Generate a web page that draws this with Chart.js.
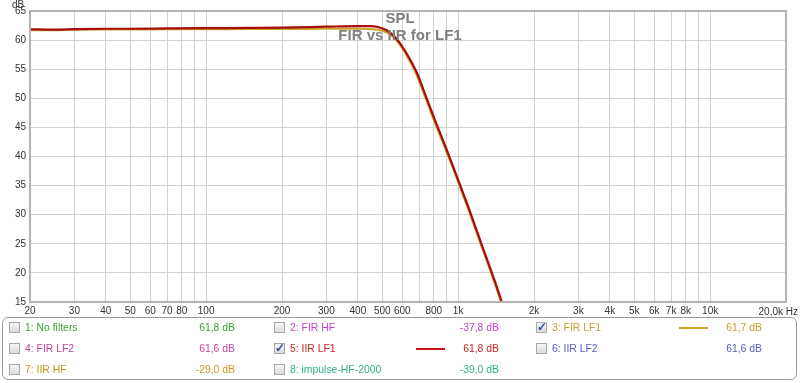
<!DOCTYPE html>
<html>
<head>
<meta charset="utf-8">
<script src="https://cdn.jsdelivr.net/npm/chart.js@4.4.1/dist/chart.umd.min.js"></script>
<style>
  html, body { margin: 0; padding: 0; background: #fff; }
  #wrap { position: relative; width: 800px; height: 383px; font-family: "Liberation Sans", Arial, sans-serif; font-size: 10.4px; }
  #plot { position: absolute; left: 0; top: 0; }
  #leyenda { position: absolute; left: 2px; top: 317px; width: 795px; height: 63px; border: 1px solid #9a9a9a; border-radius: 6px; box-sizing: border-box; }
  .caja { position: absolute; width: 11px; height: 11px; border: 1px solid #a8a8a8; background: linear-gradient(#f4f4f4, #dcdcdc); box-sizing: border-box; }
  .caja span { position: absolute; left: 0px; top: -3px; font-size: 12px; color: #2d4fa0; font-weight: bold; }
  .txt { position: absolute; white-space: nowrap; line-height: 12px; }
  .val { position: absolute; white-space: nowrap; line-height: 12px; text-align: right; }
  .muestra { position: absolute; height: 2px; }
</style>
</head>
<body>
<div id="wrap">
  <canvas id="plot" width="800" height="318"></canvas>
  <div id="leyenda"></div>
</div>
<script>
// Frecuencias (Hz) y nivel SPL (dB) de cada curva
const iirFrecuencias = [20, 25, 30, 40, 50, 70, 100, 150, 200, 300, 400, 450, 480, 520, 550, 572, 600, 644, 687, 750, 800, 900, 1000, 1100, 1200, 1300, 1400, 1490];
const iirSpl = [61.85, 61.8, 61.9, 61.95, 61.95, 62.0, 62.05, 62.1, 62.15, 62.3, 62.4, 62.4, 62.25, 61.7, 60.9, 60.1, 58.9, 56.7, 54.3, 50.0, 46.8, 41.2, 36.0, 31.2, 26.6, 22.4, 18.5, 15.0];

const firFrecuencias = [20, 25, 30, 40, 50, 70, 100, 150, 200, 300, 400, 450, 500, 530, 560, 600, 644, 687, 750, 800, 900, 1000, 1100, 1200, 1300, 1400, 1480];
const firSpl = [61.7, 61.7, 61.75, 61.8, 61.8, 61.85, 61.85, 61.9, 61.9, 61.95, 61.95, 61.9, 61.6, 61.1, 60.3, 58.6, 56.3, 53.8, 49.5, 46.3, 40.8, 35.6, 30.8, 26.2, 22.0, 18.1, 15.0];

// Marcas del eje X
const marcasX = [20, 30, 40, 50, 60, 70, 80, 90, 100, 200, 300, 400, 500, 600, 700, 800, 900, 1000,
    2000, 3000, 4000, 5000, 6000, 7000, 8000, 9000, 10000, 20000];
const etiquetasX = ['20', '30', '40', '50', '60', '70', '80', '', '100', '200', '300', '400', '500', '600', '', '800', '', '1k',
    '2k', '3k', '4k', '5k', '6k', '7k', '8k', '', '10k', ''];

// Leyenda: texto, color, valor, marcado
const leyendaTextos = ['1: No filters', '2: FIR HF', '3: FIR LF1', '4: FIR LF2', '5: IIR LF1', '6: IIR LF2', '7: IIR HF', '8: impulse-HF-2000'];
const leyendaValores = ['61,8 dB', '-37,8 dB', '61,7 dB', '61,6 dB', '61,8 dB', '61,6 dB', '-29,0 dB', '-39,0 dB'];
const leyendaColores = ['#3f9a3a', '#c044c4', '#c0a030', '#c8449a', '#c42424', '#5a5ac4', '#c8961e', '#2eb47e'];
const leyendaMarcado = [false, false, true, false, true, false, false, false];

const colorIir = '#a80c0c';
const colorFir = '#c8a428';

function aPuntos(xs, ys) {
    return xs.map((x, i) => ({ x: x, y: ys[i] }));
}

// Plugin para título, borde y textos extra
const extras = {
    id: 'extras',
    afterDatasetsDraw(chart) {
        const ctx = chart.ctx;
        const a = chart.chartArea;
        ctx.save();
        ctx.strokeStyle = '#b4b4b4';
        ctx.lineWidth = 2;
        ctx.strokeRect(a.left, a.top, a.right - a.left, a.bottom - a.top);
        ctx.fillStyle = '#808080';
        ctx.font = 'bold 15px "Liberation Sans", Arial, sans-serif';
        ctx.textAlign = 'center';
        ctx.textBaseline = 'middle';
        ctx.fillText('SPL', 400, 19);
        ctx.fillText('FIR vs IIR for LF1', 400, 36);
        ctx.fillStyle = '#333';
        ctx.font = '10px "Liberation Sans", Arial, sans-serif';
        ctx.fillText('dB', 18, 5);
        ctx.textAlign = 'right';
        ctx.textBaseline = 'top';
        ctx.fillText('20,0k Hz', 798, 307);
        ctx.restore();
    }
};

new Chart(document.getElementById('plot'), {
    type: 'line',
    data: {
        datasets: [{
            label: '5: IIR LF1',
            data: aPuntos(iirFrecuencias, iirSpl),
            borderColor: colorIir,
            borderWidth: 2.2,
            pointRadius: 0,
            cubicInterpolationMode: 'monotone'
        }, {
            label: '3: FIR LF1',
            data: aPuntos(firFrecuencias, firSpl),
            borderColor: colorFir,
            borderWidth: 2,
            pointRadius: 0,
            cubicInterpolationMode: 'monotone'
        }]
    },
    plugins: [extras],
    options: {
        responsive: false,
        animation: false,
        layout: { padding: { left: 0, top: 11, right: 14, bottom: 0 } },
        plugins: {
            legend: { display: false },
            tooltip: { enabled: false },
            title: { display: false }
        },
        scales: {
            x: {
                type: 'logarithmic',
                min: 20,
                max: 20000,
                afterBuildTicks: function (s) { s.ticks = marcasX.map(v => ({ value: v })); },
                afterFit: function (s) { s.height = 16; },
                grid: { color: '#d2d2d2', drawTicks: false },
                border: { color: '#a0a0a0', width: 2 },
                ticks: {
                    autoSkip: false,
                    maxRotation: 0,
                    padding: 3,
                    color: '#333',
                    font: { size: 10, family: '"Liberation Sans", Arial, sans-serif' },
                    callback: function (value, index) { return etiquetasX[index]; }
                }
            },
            y: {
                min: 15,
                max: 65,
                afterFit: function (s) { s.width = 30; },
                grid: { color: '#d2d2d2', drawTicks: false },
                border: { color: '#a0a0a0', width: 2 },
                ticks: {
                    stepSize: 5,
                    padding: 4,
                    color: '#333',
                    font: { size: 10, family: '"Liberation Sans", Arial, sans-serif' }
                }
            }
        }
    }
});

// Construir la leyenda inferior
const leyenda = document.getElementById('leyenda');
const colCaja = [6, 271, 533];
const colValor = [234, 498, 761];
const filas = [10, 31, 52];
leyendaTextos.forEach((texto, i) => {
    const fila = Math.floor(i / 3);
    const col = i % 3;
    const top = filas[fila];
    const caja = document.createElement('div');
    caja.className = 'caja';
    caja.style.left = colCaja[col] + 'px';
    caja.style.top = (top - 6) + 'px';
    if (leyendaMarcado[i]) caja.innerHTML = '<span>&#10003;</span>';
    leyenda.appendChild(caja);

    const t = document.createElement('div');
    t.className = 'txt';
    t.style.left = (colCaja[col] + 16) + 'px';
    t.style.top = (top - 6) + 'px';
    t.style.color = leyendaColores[i];
    t.textContent = texto;
    leyenda.appendChild(t);

    const v = document.createElement('div');
    v.className = 'val';
    v.style.right = (795 - colValor[col]) + 'px';
    v.style.top = (top - 6) + 'px';
    v.style.color = leyendaColores[i];
    v.textContent = leyendaValores[i];
    leyenda.appendChild(v);
});

// Muestras de línea para las curvas visibles
[[2, colorFir], [4, '#c81414']].forEach(([i, color]) => {
    const col = i % 3;
    const fila = Math.floor(i / 3);
    const m = document.createElement('div');
    m.className = 'muestra';
    m.style.left = (colValor[col] - 85) + 'px';
    m.style.width = '29px';
    m.style.top = (filas[fila] - 1) + 'px';
    m.style.background = color;
    leyenda.appendChild(m);
});
</script>
</body>
</html>
